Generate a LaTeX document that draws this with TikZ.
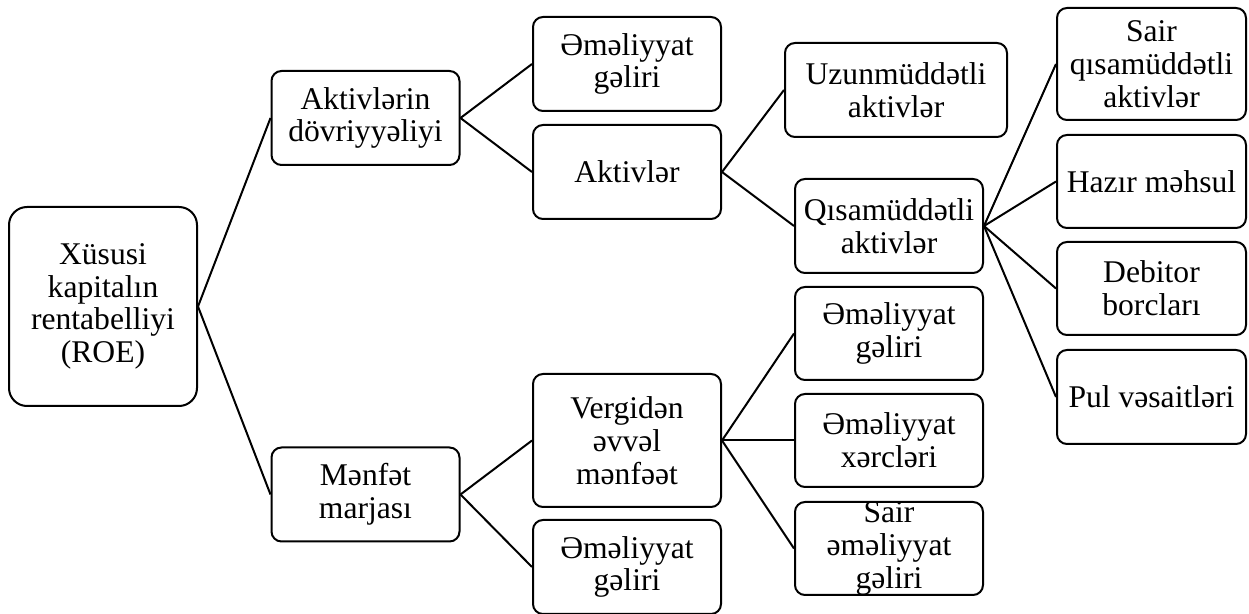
\documentclass[tikz,border=0pt]{standalone}
\usepackage{fontspec}
\setmainfont{Liberation Serif}
\usepackage{tikz}
\tikzstyle{box} = [draw, rounded corners=5pt, line width=1pt, align=center, inner sep=0pt,
  minimum width=94pt, minimum height=47pt, font=\fontsize{15.8}{16.4}\selectfont]
\tikzstyle{txt} = [align=center, inner sep=0pt, font=\fontsize{15.8}{16.4}\selectfont]
\tikzstyle{link} = [line width=1pt]

\begin{document}
\begin{tikzpicture}[x=0.5pt,y=-0.5pt]
  \def\xroe{103,306.5}
  \def\xaktd{365.5,118}
  \def\xmenf{365.5,494.5}
  \def\xemgu{627,64}
  \def\xakt{627,172}
  \def\xverg{627,440.5}
  \def\xemga{627,567}
  \def\xuzun{896,90}
  \def\xqisa{889,226}
  \def\xemgr{889,333.5}
  \def\xxerc{889,440.5}
  \def\xsair{889,548.5}
  \def\xsairq{1151.5,64}
  \def\xhazir{1151.5,181.5}
  \def\xdebit{1151.5,288.5}
  \def\xpul{1151.5,397}
  \useasboundingbox (0,0) rectangle (1249,614);
  % first and second level
  \node[box,rounded corners=9pt,minimum width=94pt,minimum height=99.5pt] (roe) at (\xroe) {Xüsusi\\kapitalın\\rentabelliyi\\(ROE)};
  \node[box] (aktd) at (\xaktd) {Aktivlərin\\dövriyyəliyi};
  \node[box] (menf) at (\xmenf) {Mənfət\\marjası};
  % third level
  \node[box] (emgu) at (\xemgu) {Əməliyyat\\gəliri};
  \node[box] (akt) at (\xakt) {Aktivlər};
  \node[box,minimum height=66.5pt] (verg) at (\xverg) {Vergidən\\əvvəl\\mənfəət};
  \node[box] (emga) at (\xemga) {Əməliyyat\\gəliri};
  % fourth level
  \node[box,minimum width=111pt] (uzun) at (\xuzun) {Uzunmüddətli\\aktivlər};
  \node[box] (qisa) at (\xqisa) {Qısamüddətli\\aktivlər};
  \node[box,minimum height=46.5pt] (emgr) at (\xemgr) {Əməliyyat\\gəliri};
  \node[box,minimum height=46.5pt] (xerc) at (\xxerc) {Əməliyyat\\xərcləri};
  \node[box,minimum height=46.5pt] (sair) at (\xsair) {};
  \node[txt] at (sair.center) {Sair\\əməliyyat\\gəliri};
  % fifth level
  \node[box,minimum width=94.5pt,minimum height=56pt] (sairq) at (\xsairq) {Sair\\qısamüddətli\\aktivlər};
  \node[box,minimum width=94.5pt,minimum height=46.5pt] (hazir) at (\xhazir) {Hazır məhsul};
  \node[box,minimum width=94.5pt,minimum height=46.5pt] (debit) at (\xdebit) {Debitor\\borcları};
  \node[box,minimum width=94.5pt] (pul) at (\xpul) {Pul vəsaitləri};
  % connectors
  \draw[link] (roe.east) -- (aktd.west);
  \draw[link] (roe.east) -- (menf.west);
  \draw[link] (aktd.east) -- (emgu.west);
  \draw[link] (aktd.east) -- (akt.west);
  \draw[link] (menf.east) -- (verg.west);
  \draw[link] (menf.east) -- (emga.west);
  \draw[link] (akt.east) -- (uzun.west);
  \draw[link] (akt.east) -- (qisa.west);
  \draw[link] (verg.east) -- (emgr.west);
  \draw[link] (verg.east) -- (xerc.west);
  \draw[link] (verg.east) -- (sair.west);
  \draw[link] (qisa.east) -- (sairq.west);
  \draw[link] (qisa.east) -- (hazir.west);
  \draw[link] (qisa.east) -- (debit.west);
  \draw[link] (qisa.east) -- (pul.west);
\end{tikzpicture}
\end{document}
